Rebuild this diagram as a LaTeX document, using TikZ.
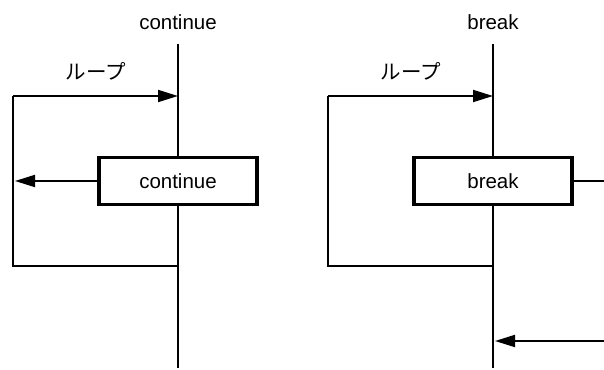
\documentclass[tikz,border=0pt]{standalone}
\usepackage{fontspec}
\setmainfont{Liberation Sans}
\newfontfamily\jpfont{Noto Sans CJK JP}
\usetikzlibrary{arrows.meta}
\begin{document}
\begin{tikzpicture}[x=1pt,y=-1pt,
  every node/.style={font=\fontsize{20.5}{24}\selectfont, inner sep=0pt},
  flow/.style={line width=1.9pt},
  arr/.style={flow, -{Triangle[length=20pt,width=12pt]}},
  stmt/.style={draw, line width=3.2pt, minimum width=158pt, minimum height=47pt}]
\useasboundingbox (0,0) rectangle (604,369);

% ---- continue ----
\node (tc) at (178,22) {continue};
\node (lc) at (96,71) {\jpfont ループ};
\node[stmt] (bc) at (178,181) {continue};
\coordinate (ctop) at (178,44);
\coordinate (cbot) at (178,368);
\coordinate (cin) at (178,96);
\coordinate (cout) at (178,266);
\coordinate (cl1) at (13,96);
\coordinate (cl2) at (13,266);
\coordinate (cret) at (15,181);
\draw[flow] (ctop) -- (bc.north);
\draw[flow] (bc.south) -- (cbot);
\draw[flow] (cout) -- (cl2) -- (cl1);
\draw[arr] (cl1) -- (cin);
\draw[arr] (bc.west) -- (cret);

% ---- break ----
\node (tb) at (493,22) {break};
\node (lb) at (411,71) {\jpfont ループ};
\node[stmt] (bb) at (493,181) {break};
\coordinate (btop) at (493,44);
\coordinate (bbot) at (493,368);
\coordinate (bin) at (493,96);
\coordinate (bout) at (493,266);
\coordinate (bl1) at (328,96);
\coordinate (bl2) at (328,266);
\coordinate (bexit) at (604,181);
\coordinate (bentry) at (604,341);
\coordinate (bafter) at (495,341);
\draw[flow] (btop) -- (bb.north);
\draw[flow] (bb.south) -- (bbot);
\draw[flow] (bout) -- (bl2) -- (bl1);
\draw[arr] (bl1) -- (bin);
\draw[flow] (bb.east) -- (bexit);
\draw[arr] (bentry) -- (bafter);
\end{tikzpicture}
\end{document}
